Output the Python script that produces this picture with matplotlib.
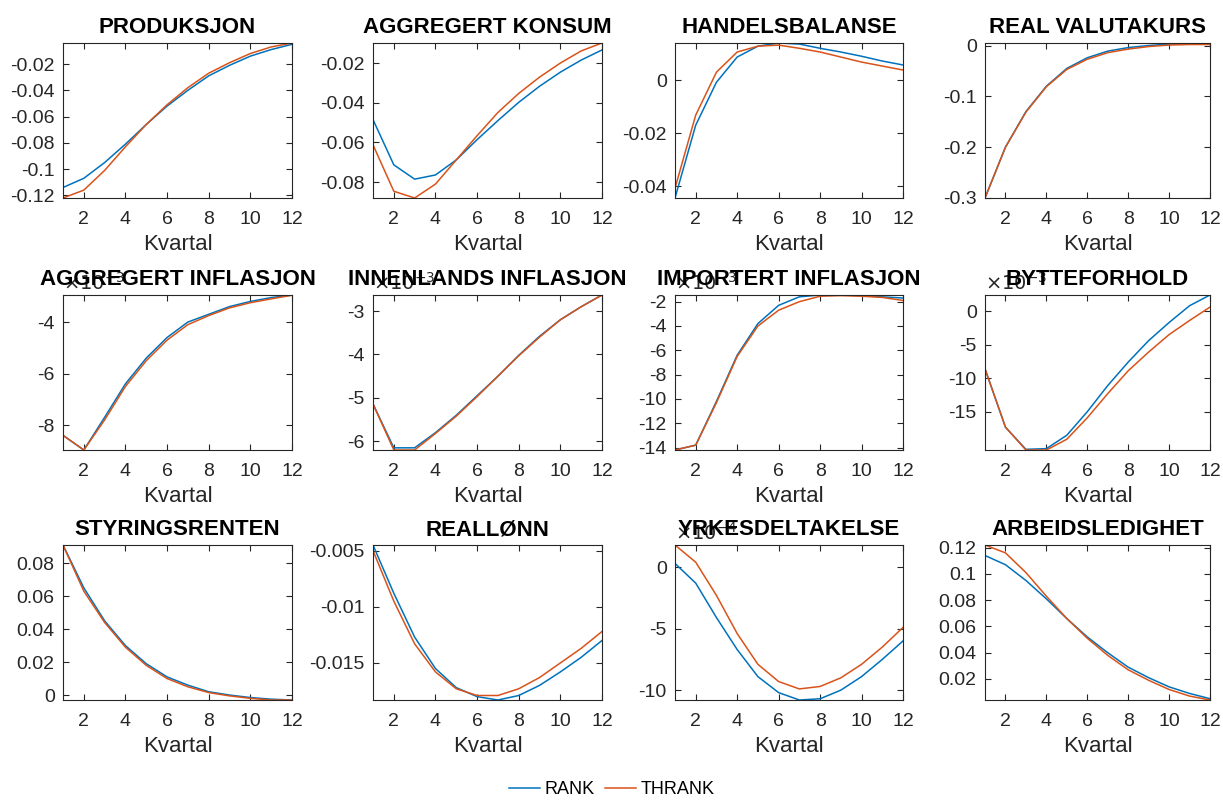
import numpy as np
import matplotlib
matplotlib.use("Agg")
import matplotlib.pyplot as plt
from matplotlib.ticker import FuncFormatter

plt.rcParams['font.family'] = ['Liberation Sans', 'DejaVu Sans']
plt.rcParams['axes.unicode_minus'] = False

kvartal = np.arange(1, 13)
x_ticks = [2, 4, 6, 8, 10, 12]

titles = ["PRODUKSJON", "AGGREGERT KONSUM", "HANDELSBALANSE", "REAL VALUTAKURS",
          "AGGREGERT INFLASJON", "INNENLANDS INFLASJON", "IMPORTERT INFLASJON", "BYTTEFORHOLD",
          "STYRINGSRENTEN", "REALLØNN", "YRKESDELTAKELSE", "ARBEIDSLEDIGHET"]

# power of ten shown on the y axis (0 = none); values below are in those units
exponents = [0, 0, 0, 0, -3, -3, -3, -3, 0, 0, -4, 0]

y_ticks = [
    [-0.12, -0.1, -0.08, -0.06, -0.04, -0.02],
    [-0.08, -0.06, -0.04, -0.02],
    [-0.04, -0.02, 0],
    [-0.3, -0.2, -0.1, 0],
    [-8, -6, -4],
    [-6, -5, -4, -3],
    [-14, -12, -10, -8, -6, -4, -2],
    [-15, -10, -5, 0],
    [0, 0.02, 0.04, 0.06, 0.08],
    [-0.015, -0.01, -0.005],
    [-10, -5, 0],
    [0.02, 0.04, 0.06, 0.08, 0.1, 0.12],
]

rank = [
    [-0.114, -0.107, -0.095, -0.081, -0.066, -0.052, -0.040, -0.029, -0.021, -0.014, -0.009, -0.005],
    [-0.0485, -0.0713, -0.0785, -0.0764, -0.0688, -0.0586, -0.049, -0.0398, -0.0317, -0.0246, -0.0185, -0.0134],
    [-0.0445, -0.017, -0.0008, 0.0087, 0.0128, 0.014, 0.0136, 0.012, 0.0106, 0.009, 0.0072, 0.0057],
    [-0.300, -0.200, -0.130, -0.080, -0.045, -0.024, -0.011, -0.004, 0.000, 0.003, 0.004, 0.005],
    [-8.4, -8.97, -7.7, -6.4, -5.4, -4.6, -4.0, -3.7, -3.4, -3.2, -3.05, -2.95],
    [-5.14, -6.15, -6.15, -5.8, -5.4, -4.95, -4.5, -4.02, -3.58, -3.2, -2.9, -2.63],
    [-14.2, -13.8, -10.2, -6.4, -3.8, -2.3, -1.6, -1.45, -1.45, -1.5, -1.6, -1.7],
    [-8.6, -17.3, -20.6, -20.5, -18.5, -15.0, -11.1, -7.6, -4.4, -1.7, 0.8, 2.4],
    [0.091, 0.065, 0.045, 0.030, 0.019, 0.011, 0.006, 0.002, 0.000, -0.0015, -0.0025, -0.003],
    [-0.0045, -0.0088, -0.0127, -0.0155, -0.0172, -0.018, -0.0183, -0.0179, -0.017, -0.0158, -0.0145, -0.013],
    [0.3, -1.3, -4.1, -6.7, -8.9, -10.2, -10.8, -10.7, -10.0, -8.9, -7.5, -6.0],
    [0.114, 0.107, 0.095, 0.081, 0.066, 0.052, 0.040, 0.029, 0.021, 0.014, 0.009, 0.005],
]

thrank = [
    [-0.122, -0.116, -0.101, -0.083, -0.066, -0.051, -0.038, -0.027, -0.019, -0.012, -0.007, -0.004],
    [-0.0612, -0.0846, -0.088, -0.081, -0.0688, -0.0566, -0.0449, -0.0353, -0.0271, -0.020, -0.0139, -0.0099],
    [-0.0408, -0.0132, 0.003, 0.0106, 0.0128, 0.0132, 0.012, 0.0106, 0.0087, 0.0068, 0.0053, 0.0038],
    [-0.300, -0.200, -0.131, -0.081, -0.047, -0.027, -0.014, -0.007, -0.002, 0.001, 0.002, 0.002],
    [-8.4, -8.97, -7.8, -6.5, -5.5, -4.7, -4.1, -3.75, -3.45, -3.25, -3.1, -2.96],
    [-5.14, -6.2, -6.2, -5.82, -5.42, -4.97, -4.5, -4.03, -3.6, -3.2, -2.9, -2.63],
    [-14.2, -13.8, -10.3, -6.5, -4.0, -2.7, -2.0, -1.55, -1.5, -1.55, -1.65, -1.9],
    [-8.6, -17.3, -20.7, -20.7, -19.1, -15.9, -12.3, -8.9, -6.1, -3.5, -1.4, 0.6],
    [0.091, 0.063, 0.044, 0.029, 0.018, 0.010, 0.005, 0.0015, -0.0005, -0.002, -0.003, -0.003],
    [-0.005, -0.0095, -0.0133, -0.0158, -0.0173, -0.0179, -0.0179, -0.0173, -0.0163, -0.015, -0.0137, -0.0122],
    [1.8, 0.4, -2.3, -5.4, -7.9, -9.3, -9.9, -9.7, -9.0, -7.9, -6.5, -4.9],
    [0.122, 0.116, 0.101, 0.083, 0.066, 0.051, 0.038, 0.027, 0.019, 0.012, 0.007, 0.004],
]

blue = "#0072BD"
orange = "#D95319"
ink = "#262626"

fig = plt.figure(figsize=(12.23, 8.0), dpi=100)
W, H = 1223.0, 800.0
col_left = [63, 373, 675, 985]
col_width = [229, 229, 228, 225]
row_top = [43, 295, 545]
ax_h = 155

lines = []
for i, title in enumerate(titles):
    r, c = divmod(i, 4)
    ax = fig.add_axes([col_left[c] / W, (H - row_top[r] - ax_h) / H,
                       col_width[c] / W, ax_h / H])
    scale = 10.0 ** exponents[i]
    y1 = np.array(rank[i]) * scale
    y2 = np.array(thrank[i]) * scale
    l1, = ax.plot(kvartal, y1, color=blue, lw=1.1)
    l2, = ax.plot(kvartal, y2, color=orange, lw=1.1)
    lines = [l1, l2]
    # tight axes, like matlab's "axis tight"
    ax.set_xlim(1, 12)
    ax.set_ylim(min(y1.min(), y2.min()), max(y1.max(), y2.max()))
    ax.set_xticks(x_ticks)
    ax.set_yticks(np.array(y_ticks[i]) * scale)
    ax.yaxis.set_major_formatter(
        FuncFormatter(lambda v, p, s=scale: "%g" % round(v / s, 6)))
    ax.set_title(title, fontsize=16, fontweight="bold", y=1.0, pad=7)
    ax.set_xlabel("Kvartal", fontsize=16, color=ink, labelpad=5)
    ax.tick_params(direction="in", top=True, right=True, labelsize=14,
                   colors=ink, length=4, width=0.8)
    ax.tick_params(axis="x", pad=9)
    ax.tick_params(axis="y", pad=6)
    for sp in ax.spines.values():
        sp.set_color(ink)
        sp.set_linewidth(0.8)
    if exponents[i] != 0:
        ax.text(0.0, 1.01, r"$\times 10^{%d}$" % exponents[i], transform=ax.transAxes,
                ha="left", va="bottom", fontsize=14, color=ink,
                fontfamily="Liberation Sans")

fig.legend(lines, ["RANK", "THRANK"], loc="center", bbox_to_anchor=(0.5, 10 / H),
           ncol=2, frameon=False, fontsize=13, handlelength=1.7,
           handletextpad=0.25, columnspacing=0.6)

fig.savefig("out.png", dpi=100)
